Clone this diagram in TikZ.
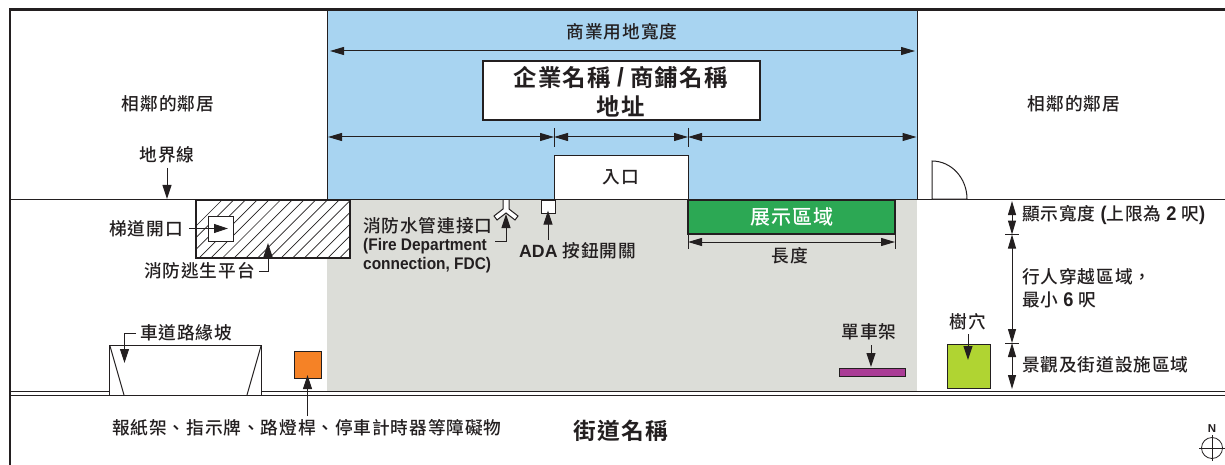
\documentclass[tikz,border=0pt]{standalone}
\usepackage{fontspec}
\setmainfont{Noto Sans CJK TC Medium}[LetterSpace=5]
\newfontfamily\heavycjk{Noto Sans CJK TC Bold}[LetterSpace=5]
\newfontfamily\lat{Liberation Sans Bold}
\newfontfamily\latin{Liberation Sans Bold}[Scale=1.12,FakeStretch=0.92]
\definecolor{ink}{RGB}{35,31,32}
\definecolor{bluefill}{RGB}{168,212,241}
\definecolor{greyfill}{RGB}{220,221,216}
\definecolor{greenfill}{RGB}{44,168,84}
\definecolor{limefill}{RGB}{176,212,50}
\definecolor{purplefill}{RGB}{170,60,150}
\definecolor{orangefill}{RGB}{245,130,38}
\usetikzlibrary{arrows.meta}
\tikzset{
 x=1pt,y=-1pt,
 lab/.style={inner sep=0pt,text=ink,font=\fontsize{17.7}{21}\selectfont,align=left},
 ln/.style={draw=ink,line width=1pt},
 dim/.style={draw=ink,line width=1pt,{Triangle[length=14pt,width=8pt]}-{Triangle[length=14pt,width=8pt]}},
 lead/.style={draw=ink,line width=1pt,-{Triangle[length=14pt,width=9pt]}},
 tick/.style={draw=ink,line width=.8pt},
}
\begin{document}
\begin{tikzpicture}
\useasboundingbox (0,0) rectangle (1225,465);
% colour zones
\path[fill=greyfill] (327,199) rectangle (917,391);
\path[fill=bluefill] (327,10) rectangle (917,199);
\draw[ln] (327,10) -- (327,199);
\draw[ln] (917,10) -- (917,199);
% frame and lot line
\draw[draw=ink,line width=2.5pt] (1225,9.5) -- (10,9.5) -- (10,465);
\draw[draw=ink,line width=1.2pt] (10,199.5) -- (1225,199.5);
\draw[draw=ink,line width=1.1pt] (10,391.5) -- (1225,391.5);
\draw[draw=ink,line width=1.1pt] (10,395.5) -- (1225,395.5);
% top
\node[lab] at (622,32) {商業用地寬度};
\coordinate (wl) at (330,51); \coordinate (wr) at (915,51);
\draw[dim] (wl) -- (wr);
\node[draw=ink,line width=2pt,fill=white,minimum width=277pt,minimum height=59pt,inner sep=0pt] (sign) at (621.5,90.5) {};
\node[inner sep=0pt,text=ink,font=\fontsize{23.4}{29}\heavycjk\selectfont,align=center] (signtxt) at (620.5,91.5) {企業名稱 {\latin/} 商鋪名稱\\地址};
\coordinate (a0) at (328,137); \coordinate (a1) at (554,137); \coordinate (a2) at (688,137); \coordinate (a3) at (916.5,137);
\draw[dim] (a0) -- (a1);
\draw[dim] (a1) -- (a2);
\draw[dim] (a2) -- (a3);
\draw[tick] (554,128) -- (554,147);
\draw[tick] (688,128) -- (688,147);
\node[lab] at (168,104) {相鄰的鄰居};
\node[lab] at (1074,104) {相鄰的鄰居};
% entrance
\node[draw=ink,line width=1pt,fill=white,minimum width=134pt,minimum height=43pt,inner sep=0pt] (entry) at (621,177.5) {};
\node[lab] at (entry.center) {入口};
% door
\draw[draw=ink,line width=1pt,fill=white] (932,199) -- (932,161) arc[start angle=90,end angle=0,x radius=35pt,y radius=38pt] -- cycle;
% property line label
\node[lab] (pl) at (167,155) {地界線};
\coordinate (plb) at (167,199);
\draw[lead] (167,168) -- (plb);
% escape platform
\begin{scope}
\clip (196,200) rectangle (350,258);
\fill[white] (196,200) rectangle (350,258);
\foreach \i in {0,...,30} \draw[ink,line width=.7pt] (160+\i*11.7,262) -- (230+\i*11.7,192);
\end{scope}
\draw[ln,line width=1.3pt] (196,200) rectangle (350,258);
\node[draw=ink,line width=1pt,fill=white,minimum size=25pt,inner sep=0pt] (stair) at (220.5,228.5) {};
\node[lab,anchor=east] (stairtxt) at (183,229) {梯道開口};
\coordinate (stt) at (228,228.5);
\draw[lead] (189,228.5) -- (stt);
\node[lab,anchor=west] (esc) at (144,271) {消防逃生平台};
\coordinate (esct) at (268,243);
\draw[lead] (259,271) -| (esct);
% FDC
\draw[draw=ink,line width=1pt,fill=white] (503,200) -- (503,209) -- (494,216) -- (497,220) -- (506,213) -- (515,220) -- (518,216) -- (509,209) -- (509,200);
\node[lab,anchor=north west] (fdc) at (363,217) {消防水管連接口};
\node[inner sep=0pt,anchor=north west,text=ink,font=\fontsize{16.4}{19}\selectfont,align=left] (fdc2) at (363,238.5) {\latin\fontsize{15}{19}\selectfont (Fire Department\\\latin\fontsize{15}{19}\selectfont connection, FDC)};
\coordinate (fdct) at (506,214);
\draw[lead] (495,241.5) -| (fdct);
% ADA
\node[draw=ink,line width=1pt,fill=white,minimum width=14pt,minimum height=13pt,inner sep=0pt] (ada) at (548,206.5) {};
\coordinate (adat0) at (548,210.5);
\draw[lead] (548,240) -- (adat0);
\node[lab,anchor=west] (adat) at (519,251) {{\lat ADA} 按鈕開關};
% display
\node[draw=ink,line width=2pt,fill=greenfill,minimum width=207pt,minimum height=34pt,inner sep=0pt] (disp) at (791.5,217) {};
\node[text=white,inner sep=0pt,font=\fontsize{20}{24}\selectfont] at (disp.center) {展示區域};
\coordinate (ll) at (688,242); \coordinate (lr) at (895,242);
\draw[dim] (ll) -- (lr);
\draw[tick] (688,234) -- (688,249);
\draw[tick] (895,234) -- (895,249);
\node[lab] at (790,256) {長度};
% bike rack
\node[lab] at (869,332) {單車架};
\node[draw=ink,line width=.8pt,fill=purplefill,minimum width=66pt,minimum height=8pt,inner sep=0pt] (bike) at (872,372) {};
\coordinate (biket) at (871,367);
\draw[lead] (871,345) -- (biket);
% tree
\node[draw=ink,line width=1pt,fill=limefill,minimum width=43pt,minimum height=44pt,inner sep=0pt] (tree) at (968.5,366) {};
\node[lab] (treet) at (968,322) {樹穴};
\coordinate (treeh) at (968,360);
\draw[lead] (968,334) -- (treeh);
% right dims
\coordinate (d0) at (1012,201); \coordinate (d1) at (1012,234.5); \coordinate (d2) at (1012,343); \coordinate (d3) at (1012,389);
\draw[dim] (d0) -- (d1);
\draw[dim] (d1) -- (d2);
\draw[dim] (d2) -- (d3);
\draw[tick] (1005,234.5) -- (1019,234.5);
\draw[tick] (1005,343) -- (1019,343);
\node[lab,anchor=west] at (1022,215) {顯示寬度 {\latin(}上限為 {\latin 2} 呎{\latin)}};
\node[lab,anchor=west] at (1022,277) {行人穿越區域，};
\node[lab,anchor=west] at (1022,300) {最小 {\latin 6} 呎};
\node[lab,anchor=west] at (1022,365) {景觀及街道設施區域};
% ramp
\node[draw=ink,line width=1pt,fill=white,minimum width=152pt,minimum height=50pt,inner sep=0pt] (ramp) at (185,370) {};
\draw[ln] (110,346) -- (124,395);
\draw[ln] (261,346) -- (247,395);
\node[lab,anchor=west] (rampt) at (140,333) {車道路緣坡};
\coordinate (rampa) at (124.5,363);
\draw[lead] (136,333) -| (rampa);
% obstacles
\node[draw=ink,line width=1pt,fill=orangefill,minimum size=27pt,inner sep=0pt] (obs) at (307.5,364.5) {};
\coordinate (obst) at (307.5,375);
\draw[lead] (307.5,416) -- (obst);
\node[lab,anchor=west] at (112,428) {報紙架、指示牌、路燈桿、停車計時器等障礙物};
% street
\node[inner sep=0pt,text=ink,font=\fontsize{22.7}{26}\heavycjk\selectfont] at (621,431) {街道名稱};
% north
\node[inner sep=0pt,text=ink,font=\fontsize{11.5}{12}\lat\selectfont] (north) at (1212,429) {N};
\node[draw=ink,line width=.8pt,circle,minimum size=21pt,inner sep=0pt] (nc) at (1212,448) {};
\draw[ink,line width=.8pt] (1212,435) -- (1212,461);
\draw[ink,line width=.8pt] (1199,448) -- (1225,448);
\end{tikzpicture}
\end{document}
